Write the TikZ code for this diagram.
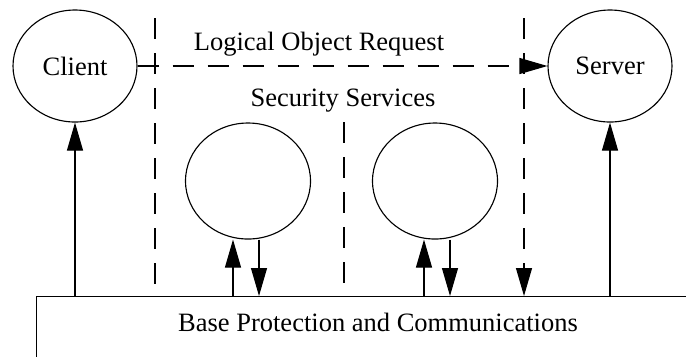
\documentclass[tikz,border=0pt]{standalone}
\usepackage{fontspec}
\setmainfont{Liberation Serif}
\usetikzlibrary{arrows.meta,positioning,shapes.geometric}

\begin{document}
\begin{tikzpicture}[x=0.4pt, y=-0.4pt, line width=0.45pt,
    every node/.style={font=\fontsize{10.6}{12.7}\selectfont},
    endpoint/.style={draw, ellipse, inner sep=0pt, minimum width=49.6pt, minimum height=44.8pt},
    service/.style={draw, ellipse, inner sep=0pt, minimum width=50pt, minimum height=46.4pt},
    link/.style={-{Triangle[length=11.2pt, width=6.4pt]}},
    boundary/.style={dash pattern=on 8.4pt off 5.6pt}]

    % Frame of the picture
    \useasboundingbox (0,0) rectangle (686,356);
    \clip (0,0) rectangle (686,356);

    % Base layer (runs off the right and lower edge)
    \node[draw, anchor=north west, minimum width=300pt, minimum height=40pt] (base) at (36,296) {};
    \node (basetext) at (378,322) {Base Protection and Communications};

    % Client and server
    \node[endpoint] (client) at (75,66) {Client};
    \node[endpoint] (server) at (610,66) {Server};

    % Security services
    \node[service] (svcA) at (248,181) {};
    \node[service] (svcB) at (435,181) {};

    % Labels
    \node (request) at (319,44) {Logical Object Request};
    \node (services) at (343,101) {Security Services};

    % Dashed boundaries
    \coordinate (leftTop) at (155,18);
    \coordinate (midTop) at (344,122);
    \coordinate (rightTop) at (524,18);
    \draw[boundary] (leftTop) -- (leftTop |- base.north);
    \draw[boundary] (midTop) -- (midTop |- base.north);
    \draw[boundary, link] (rightTop) -- (rightTop |- base.north);

    % Logical request from client to server
    \draw[boundary, link] (client.east) -- (server.west);

    % Base to client and server
    \draw[link] (base.north -| client.south) -- (client.south);
    \draw[link] (base.north -| server.south) -- (server.south);

    % Base to and from the services
    \draw[link] ([xshift=-6pt]svcA.south |- base.north) -- ([xshift=-6pt]svcA.south);
    \draw[link] ([xshift=4.4pt]svcA.south) -- ([xshift=4.4pt]svcA.south |- base.north);
    \draw[link] ([xshift=-4.4pt]svcB.south |- base.north) -- ([xshift=-4.4pt]svcB.south);
    \draw[link] ([xshift=6pt]svcB.south) -- ([xshift=6pt]svcB.south |- base.north);

\end{tikzpicture}
\end{document}
